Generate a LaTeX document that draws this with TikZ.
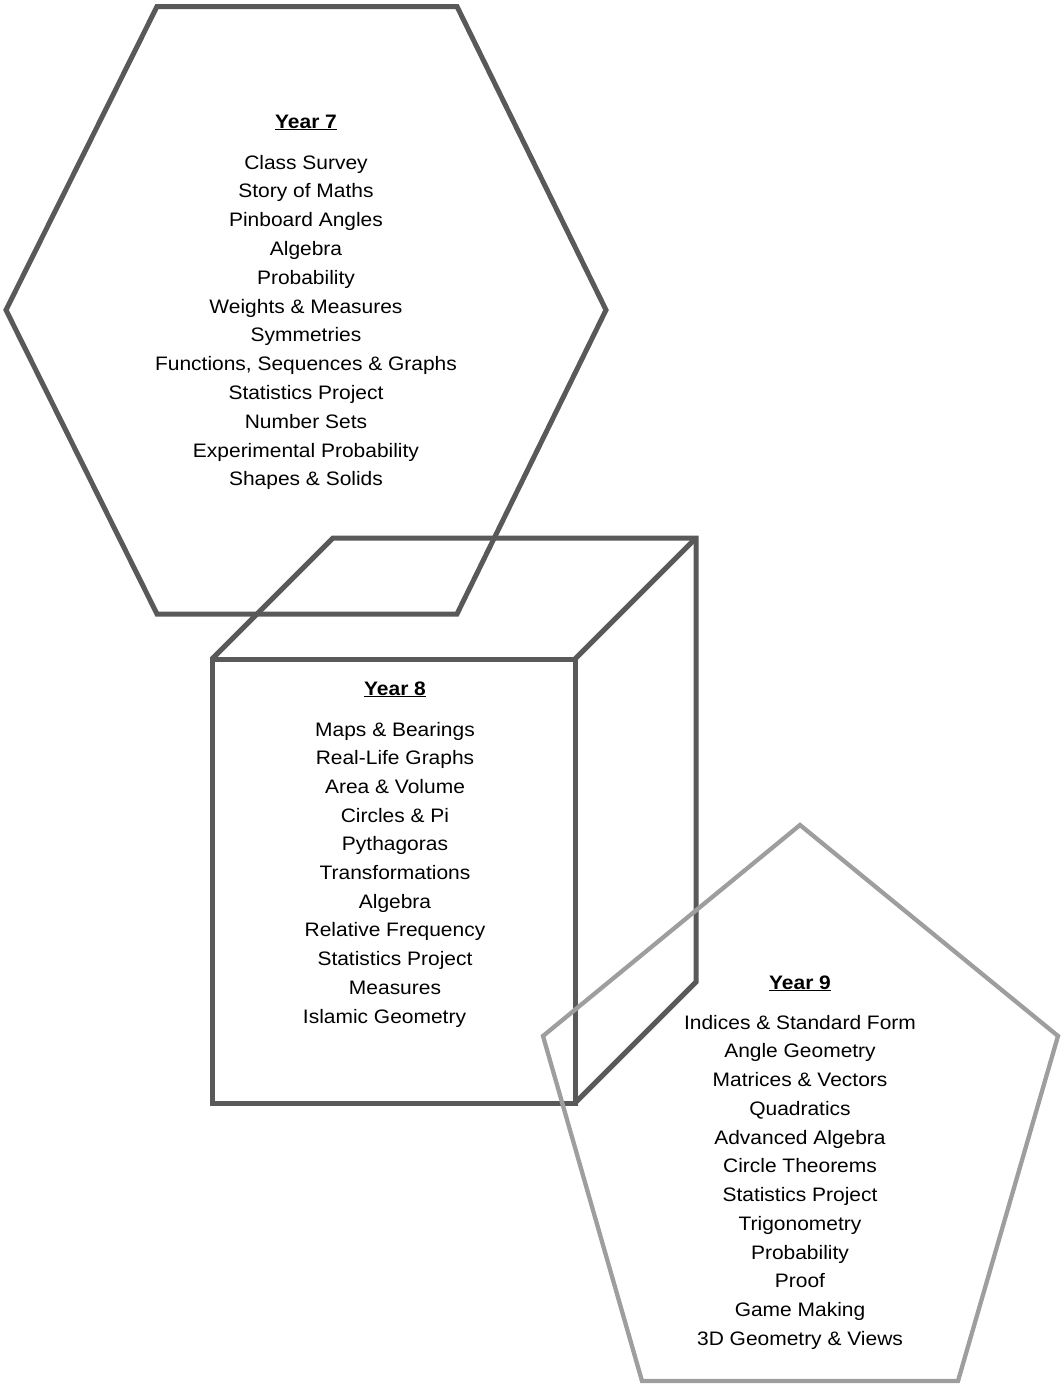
\documentclass[tikz,border=0pt]{standalone}
\usepackage{fontspec}
\setmainfont{Liberation Sans}[FakeStretch=1.075]
\begin{document}
\begin{tikzpicture}[x=1pt,y=-1pt,
  darkline/.style={draw=black!65, line width=5pt, line join=miter},
  lightline/.style={draw=black!38, line width=4.3pt, line join=miter},
  item/.style={anchor=base, inner sep=0pt, font=\fontsize{19.5}{23}\selectfont},
  head/.style={anchor=base, inner sep=0pt, font=\fontsize{19.5}{23}\selectfont\bfseries}]
\useasboundingbox (0,0) rectangle (1063,1385);
% Hexagon (Year 7)
\draw[darkline] (157,6.5) -- (457,6.5) -- (606,310) -- (457,614) -- (157,614) -- (6,310) -- cycle;
% Cube (Year 8)
\draw[darkline] (212,659) rectangle (575,1103);
\draw[darkline] (212,659) -- (333,538) -- (696,538) -- (696,982) -- (575,1103);
\draw[darkline] (575,659) -- (696,538);
% Pentagon (Year 9)
\draw[lightline] (800,825) -- (1058,1036) -- (958,1381) -- (642,1381) -- (543,1036) -- cycle;
% Year 7 text
\node[head] (y7) at (306,128) {\underline{Year 7}};
\foreach \t [count=\i from 0] in {Class Survey, Story of Maths, Pinboard Angles, Algebra, Probability, Weights \& Measures, Symmetries, {Functions, Sequences \& Graphs}, Statistics Project, Number Sets, Experimental Probability, Shapes \& Solids}
  \node[item] (y7-\i) at (306,169+28.8*\i) {\t};
% Year 8 text
\node[head] (y8) at (395,695) {\underline{Year 8}};
\foreach \t [count=\i from 0] in {Maps \& Bearings, Real-Life Graphs, Area \& Volume, Circles \& Pi, Pythagoras, Transformations, Algebra, Relative Frequency, Statistics Project, Measures}
  \node[item] (y8-\i) at (395,736+28.7*\i) {\t};
\node[item] (y8-10) at (384.5,736+28.7*10) {Islamic Geometry};
% Year 9 text
\node[head] (y9) at (800,989) {\underline{Year 9}};
\foreach \t [count=\i from 0] in {Indices \& Standard Form, Angle Geometry, Matrices \& Vectors, Quadratics, Advanced Algebra, Circle Theorems, Statistics Project, Trigonometry, Probability, Proof, Game Making, 3D Geometry \& Views}
  \node[item] (y9-\i) at (800,1029+28.75*\i) {\t};
\end{tikzpicture}
\end{document}
